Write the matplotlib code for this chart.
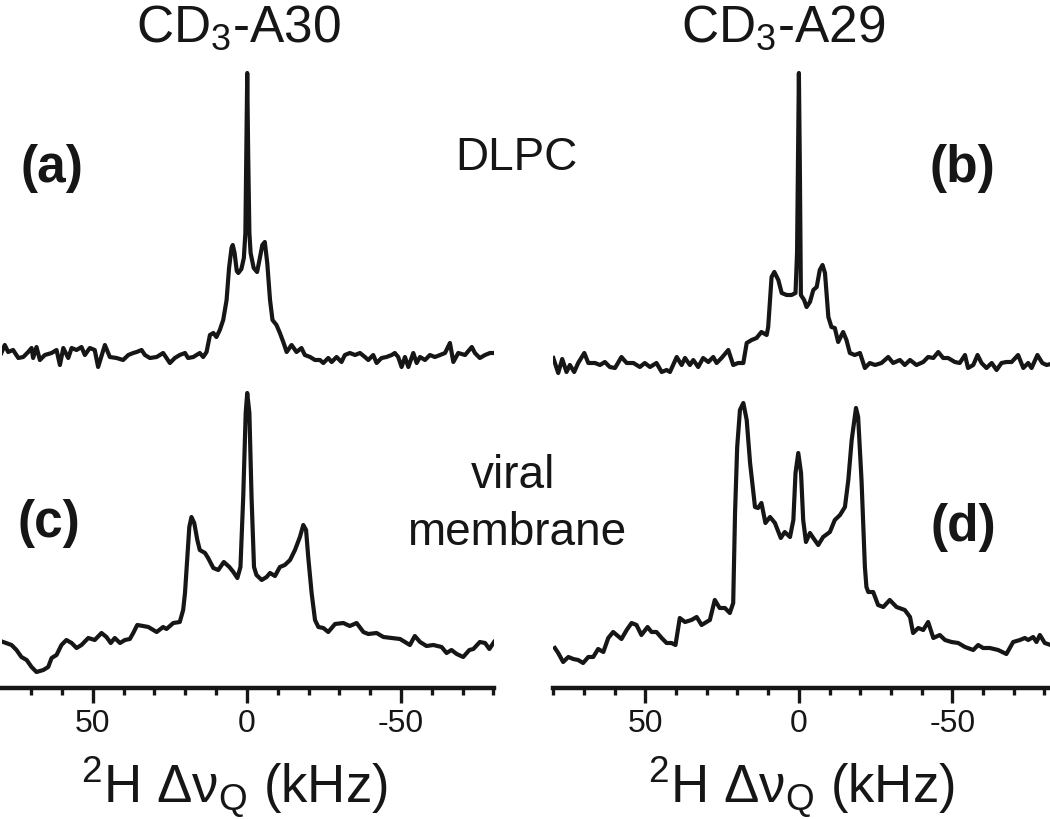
import matplotlib
matplotlib.use("Agg")
import matplotlib.pyplot as plt
from matplotlib.ticker import MultipleLocator

plt.rcParams['font.family'] = ['Liberation Sans', 'DejaVu Sans']
plt.rcParams['mathtext.fontset'] = 'custom'
plt.rcParams['mathtext.rm'] = 'Liberation Sans'
plt.rcParams['mathtext.it'] = 'Liberation Sans'
plt.rcParams['mathtext.bf'] = 'Liberation Sans:bold'
plt.rcParams['axes.unicode_minus'] = False

## Spectra: frequency (kHz) and intensity (arb. units)
# (a) CD3-A30 in DLPC
a_khz = [79.7, 78.6, 77.5, 75.9, 74.2, 72.6, 71.0, 69.9, 69.4, 68.3, 67.2, 65.6, 63.4, 61.8,
         60.7, 59.6, 58.0, 56.9, 55.3, 53.7, 52.6, 51.0, 49.4, 48.3, 46.1, 44.5, 42.3, 40.2,
         38.5, 36.9, 35.8, 34.2, 33.1, 31.5, 29.3, 27.2, 26.1, 25.0, 23.4, 21.8, 20.1, 19.1,
         17.4, 15.3, 14.2, 13.1, 12.0, 10.9, 9.9, 8.8, 7.7, 6.6, 5.8, 5.0, 4.6, 4.0, 3.3, 2.8,
         1.8, 1.0, 0.5, 0.2, -0.1, -0.4, -0.8, -1.2, -2.2, -3.3, -4.2, -5.0, -5.8, -6.6, -7.5,
         -8.3, -9.6, -10.7, -11.8, -12.9, -14.5, -16.1, -17.7, -18.8, -20.5, -22.1, -23.7,
         -24.8, -26.4, -27.5, -29.1, -30.7, -31.8, -33.4, -35.1, -36.7, -38.3, -39.4, -41.0,
         -42.1, -43.7, -45.3, -47.0, -48.0, -49.1, -50.2, -51.3, -52.4, -54.0, -55.1, -56.2,
         -57.8, -59.4, -61.0, -62.7, -64.3, -65.9, -67.0, -68.6, -70.8, -73.0, -74.0, -75.6,
         -77.3, -78.9, -80.5]
a_int = [0, 8, 1, 3, -5, -4, 1, 5, -5, 6, -7, -2, 0, 3,
         -12, 5, -5, 5, 3, 6, -2, 5, 3, -14, 8, -4, -5, -7,
         -2, 0, 1, 3, -2, -5, -4, 0, -5, -10, -5, -2, 0, -5,
         -4, 0, -4, 1, 18, 20, 16, 23, 33, 53, 85, 105, 108, 100, 82, 80,
         84, 95, 120, 200, 280, 200, 120, 100, 85, 81, 95, 108, 111, 90, 53,
         33, 28, 20, 11, 1, 8, 1, 5, -2, -4, -7, -7,
         -10, -5, -9, -4, -9, -2, 0, -2, 0, -4, -7, -2,
         -10, -5, -4, -2, 0, -4, -14, -4, -14, 0, -10, -4,
         -7, -2, -4, -2, 0, 10, -9, 0, -2, 6, 0, -5,
         -2, 0, 0]

# (b) CD3-A29 in DLPC
b_khz = [80.0, 78.4, 77.1, 75.7, 74.6, 73.2, 71.9, 69.9, 68.6, 66.4, 64.8, 63.2, 61.6, 59.9,
         57.8, 56.1, 53.9, 51.8, 50.2, 48.5, 46.4, 44.7, 43.1, 42.0, 39.8, 38.2, 37.1, 35.5,
         34.4, 32.8, 31.2, 29.5, 27.9, 26.8, 25.2, 23.0, 21.4, 19.8, 18.1, 17.0, 15.4, 13.8,
         12.2, 10.5, 10.0, 8.9, 8.0, 6.7, 5.6, 4.0, 2.4, 1.1, 0.6, 0.3, 0.0, -0.3, -0.65,
         -1.7, -2.5, -3.6, -4.7, -5.8, -6.8, -7.7, -8.5, -9.6, -10.6, -11.7, -12.8, -14.4,
         -15.5, -16.6, -18.2, -19.9, -21.5, -23.1, -24.8, -26.9, -29.1, -30.7, -32.9, -34.5,
         -36.2, -38.3, -40.5, -42.1, -43.8, -45.4, -47.0, -48.6, -50.8, -52.4, -54.1, -55.1,
         -56.8, -58.2, -59.5, -61.1, -62.8, -64.4, -66.0, -67.6, -69.3, -71.4, -73.1, -74.7,
         -75.8, -77.7, -79.3, -80.7, -82.0]
b_int = [5, -10, 4, -9, -2, -9, 0, 10, 0, 0, -2, 1, -4, -5,
         6, 0, 0, -4, 0, -4, 0, -9, -7, -9, 6, -2, 5, -2,
         3, -4, 5, 1, 6, 0, 5, 13, -2, 0, 0, 20, 23, 25,
         31, 28, 36, 86, 91, 83, 70, 68, 68, 70, 110, 200, 290, 200, 68,
         63, 56, 61, 73, 76, 93, 98, 90, 46, 36, 35, 21, 31,
         23, 10, 8, 10, -5, 0, -2, 0, 6, 0, 3, -2,
         3, -2, 1, 6, 5, 11, 5, 5, 1, 0, 8, -5,
         -2, 8, 0, -5, 0, -7, 0, 1, 1, 8, -5, 0,
         -5, 8, 0, -2, -1]

# (c) CD3-A30 in viral membrane
c_khz = [79.1, 76.4, 74.8, 73.2, 71.5, 69.9, 68.3, 66.1, 64.5, 63.4, 61.8, 60.2, 58.6, 56.9,
         55.3, 53.7, 51.5, 49.4, 47.2, 45.6, 44.2, 42.9, 41.2, 39.6, 38.0, 36.9, 35.6, 33.7,
         32.0, 29.3, 27.2, 26.1, 23.9, 21.8, 20.7, 20.1, 19.4, 18.7, 18.0, 17.1, 16.1, 15.3,
         13.6, 12.6, 10.9, 9.3, 7.5, 5.7, 4.4, 3.1, 2.1, 1.2, 0.4, -0.1, -0.8, -1.5, -2.3,
         -3.1, -4.8, -6.4, -7.5, -9.1, -10.7, -12.3, -14.0, -15.6, -17.2, -18.3, -19.2, -19.9,
         -21.0, -22.1, -23.2, -24.8, -26.4, -28.6, -31.3, -33.4, -35.6, -37.8, -39.4, -42.1,
         -44.3, -47.0, -49.7, -51.3, -52.9, -54.5, -56.2, -58.3, -60.5, -63.2, -64.8, -66.4,
         -68.1, -70.2, -72.2, -73.5, -75.6, -77.3, -78.7, -80.2]
c_int = [-12, -15, -20, -27, -30, -37, -42, -40, -37, -28, -25, -15, -10, -13,
         -18, -15, -8, -10, -3, -7, -13, -8, -13, -10, -9, -3, 5, 4,
         3, -2, 3, 1, 7, 8, 20, 37, 70, 103, 113, 107, 90, 80,
         77, 72, 62, 60, 68, 63, 58, 52, 63, 133, 217, 237, 217, 133, 63,
         55, 50, 53, 57, 54, 63, 65, 70, 80, 93, 105, 100, 73,
         37, 10, 3, 2, -2, 6, 7, 4, 7, -2, -4, -3,
         -7, -8, -9, -12, -15, -6, -12, -16, -15, -17, -23, -20,
         -24, -27, -20, -19, -12, -13, -19, -12]

# (d) CD3-A29 in viral membrane
d_khz = [79.5, 78.4, 76.8, 75.1, 73.5, 71.9, 70.3, 68.6, 67.0, 65.4, 63.7, 62.1, 60.5, 57.8,
         56.1, 54.5, 52.9, 51.3, 49.3, 48.0, 46.4, 44.7, 43.1, 41.5, 40.2, 38.8, 37.1, 35.0,
         33.3, 31.7, 30.1, 29.0, 27.4, 25.8, 24.1, 22.5, 21.4, 20.8, 20.1, 19.2, 18.1, 17.0,
         15.9, 14.3, 13.3, 12.2, 10.9, 9.4, 7.8, 5.9, 4.6, 2.9, 1.8, 1.1, 0.2, -0.7, -1.4,
         -2.3, -3.6, -4.7, -6.3, -7.9, -10.1, -11.7, -13.4, -15.0, -16.1, -17.2, -18.6, -19.3,
         -20.4, -21.5, -22.0, -22.6, -24.2, -25.8, -27.5, -29.6, -31.8, -34.5, -36.2, -37.2,
         -38.9, -40.5, -42.1, -43.8, -45.9, -47.6, -49.7, -51.9, -54.1, -56.8, -58.4, -60.0,
         -62.2, -64.9, -67.6, -69.8, -72.0, -73.6, -74.7, -76.3, -77.4, -78.5, -80.1, -82.0]
d_int = [-3, -8, -17, -12, -14, -15, -18, -12, -12, -4, -7, 7, 13, 6,
         15, 22, 20, 10, 18, 13, 13, 7, 2, 2, 0, 27, 23, 25,
         28, 20, 23, 25, 45, 37, 37, 32, 42, 132, 198, 235, 242, 225,
         182, 138, 137, 142, 122, 128, 122, 107, 113, 108, 125, 172, 192, 172, 125,
         103, 112, 107, 100, 108, 113, 125, 130, 138, 165, 205, 237, 228,
         165, 78, 58, 53, 53, 40, 38, 45, 38, 35, 28, 12,
         17, 15, 23, 7, 10, 5, 3, 2, -2, -5, 0, -3,
         -3, -5, -9, 3, 5, 7, 5, 8, 3, 10, 2, 0]

## Layout (figure pixels at dpi 100)
W, H = 1050, 819
fig = plt.figure(figsize=(W / 100, H / 100), dpi=100)
ink = '#161616'
lw = 3.0

ax_l = fig.add_axes([2 / W, 131 / H, 492 / W, 688 / H])
ax_r = fig.add_axes([553 / W, 131 / H, 497 / W, 688 / H])
ax_l.set_xlim(79.5, -80.2)
ax_r.set_xlim(80.1, -81.8)

# vertical offsets of the stacked traces
ax_l.plot(a_khz, [335 + v for v in a_int], color=ink, lw=lw, solid_joinstyle='round')
ax_l.plot(c_khz, [58 + v for v in c_int], color=ink, lw=lw, solid_joinstyle='round')
ax_r.plot(b_khz, [325 + v for v in b_int], color=ink, lw=lw, solid_joinstyle='round')
ax_r.plot(d_khz, [43 + v for v in d_int], color=ink, lw=lw, solid_joinstyle='round')

for ax in (ax_l, ax_r):
    ax.set_ylim(0, 688)
    for s in ('top', 'left', 'right'):
        ax.spines[s].set_visible(False)
    ax.spines['bottom'].set_linewidth(3.2)
    ax.spines['bottom'].set_color(ink)
    ax.set_yticks([])
    ax.xaxis.set_major_locator(MultipleLocator(50))
    ax.xaxis.set_minor_locator(MultipleLocator(10))
    ax.tick_params(axis='x', which='major', length=11, width=2.4, color=ink,
                   labelsize=23, pad=4, labelcolor=ink)
    ax.tick_params(axis='x', which='minor', length=5, width=2.4, color=ink)
    ax.patch.set_alpha(0)

## Text
fig.text(238 / W, 1 - 42 / H, 'CD$_3$-A30', ha='center', va='baseline', fontsize=37, color=ink)
fig.text(783 / W, 1 - 42 / H, 'CD$_3$-A29', ha='center', va='baseline', fontsize=37, color=ink)
fig.text(52 / W, 1 - 182 / H, '(a)', ha='center', va='baseline', fontsize=37,
         fontweight='bold', color=ink)
fig.text(962 / W, 1 - 182 / H, '(b)', ha='center', va='baseline', fontsize=37,
         fontweight='bold', color=ink)
fig.text(49 / W, 1 - 537 / H, '(c)', ha='center', va='baseline', fontsize=37,
         fontweight='bold', color=ink)
fig.text(963 / W, 1 - 541 / H, '(d)', ha='center', va='baseline', fontsize=37,
         fontweight='bold', color=ink)
fig.text(516 / W, 1 - 170 / H, 'DLPC', ha='center', va='baseline', fontsize=33, color=ink)
fig.text(513 / W, 1 - 488 / H, 'viral', ha='center', va='baseline', fontsize=33, color=ink)
fig.text(517 / W, 1 - 545 / H, 'membrane', ha='center', va='baseline', fontsize=33, color=ink)
xlab = '$^{2}$H \u0394\u03bd$_{\\mathrm{Q}}$ (kHz)'
fig.text(234 / W, 1 - 802 / H, xlab, ha='center', va='baseline', fontsize=38, color=ink)
fig.text(801 / W, 1 - 802 / H, xlab, ha='center', va='baseline', fontsize=38, color=ink)

fig.savefig('out.png', dpi=100)
